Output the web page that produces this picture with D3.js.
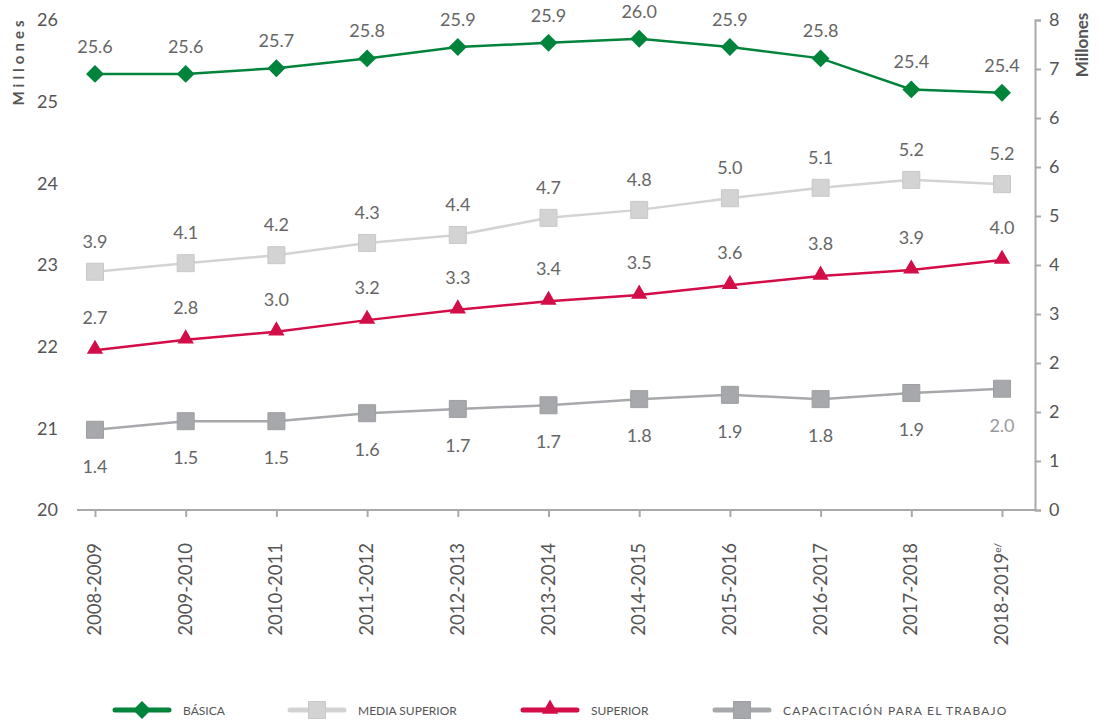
<!DOCTYPE html>
<html>
<head>
<meta charset="utf-8">
<script src="https://cdn.jsdelivr.net/npm/d3@7"></script>
<style>
  body { margin: 0; background: #fff; }
  text { font-family: Lato, "Open Sans", sans-serif; }
</style>
</head>
<body>
<div id="main"></div>
<script>
var ciclos = ["2008-2009","2009-2010","2010-2011","2011-2012","2012-2013","2013-2014","2014-2015","2015-2016","2016-2017","2017-2018","2018-2019"];
var basica = [25.34, 25.34, 25.41, 25.53, 25.67, 25.72, 25.77, 25.67, 25.53, 25.15, 25.11];//left axis
var basicaLbl = ["25.6","25.6","25.7","25.8","25.9","25.9","26.0","25.9","25.8","25.4","25.4"];
var mediaSup = [3.89, 4.03, 4.16, 4.36, 4.49, 4.77, 4.90, 5.09, 5.26, 5.39, 5.32];//right axis
var mediaSupLbl = ["3.9","4.1","4.2","4.3","4.4","4.7","4.8","5.0","5.1","5.2","5.2"];
var superior = [2.61, 2.78, 2.91, 3.10, 3.27, 3.41, 3.51, 3.67, 3.82, 3.92, 4.08];
var superiorLbl = ["2.7","2.8","3.0","3.2","3.3","3.4","3.5","3.6","3.8","3.9","4.0"];
var capacitacion = [1.31, 1.45, 1.45, 1.58, 1.65, 1.71, 1.81, 1.88, 1.81, 1.91, 1.98];
var capacitacionLbl = ["1.4","1.5","1.5","1.6","1.7","1.7","1.8","1.9","1.8","1.9","2.0"];
var leftTicks = [20, 21, 22, 23, 24, 25, 26];
var rightTicks = [0, 0.8, 1.6, 2.4, 3.2, 4.0, 4.8, 5.6, 6.4, 7.2, 8];
var legendNames = ["BÁSICA", "MEDIA SUPERIOR", "SUPERIOR", "CAPACITACIÓN PARA EL TRABAJO"];

var canvas = d3.select("#main").append("svg")
  .attr("width", 1098)
  .attr("height", 721);//create canvas

var xScale = d3.scalePoint().domain(ciclos).range([95, 1002]);
var yLeft = d3.scaleLinear().domain([20, 26]).range([510, 20]);
var yRight = d3.scaleLinear().domain([0, 8]).range([510, 20]);

var axisColor = "#a9a9ac";
var textColor = "#555";

// left axis, labels only
var gL = canvas.append("g")
  .attr("transform", "translate(77,0)")
  .call(d3.axisLeft(yLeft).tickValues(leftTicks).tickSize(0).tickPadding(19).tickFormat(d3.format("d")));
gL.select(".domain").remove();
gL.selectAll("text").attr("fill", textColor).style("font-size", "18px");

// right axis
var gR = canvas.append("g")
  .attr("transform", "translate(1035,0)")
  .call(d3.axisRight(yRight).tickValues(rightTicks).tickSize(6).tickPadding(8).tickFormat(d3.format(".0f")));
gR.select(".domain").attr("stroke", axisColor).attr("stroke-width", 2);
gR.selectAll(".tick line").attr("stroke", axisColor).attr("stroke-width", 2);
gR.selectAll("text").attr("fill", textColor).style("font-size", "18px");

// x axis
canvas.append("line")
  .attr("x1", 77).attr("x2", 1035)
  .attr("y1", yLeft(20)).attr("y2", yLeft(20))
  .attr("stroke", axisColor).attr("stroke-width", 2);
var gX = canvas.append("g")
  .attr("transform", "translate(0," + yLeft(20) + ")")
  .call(d3.axisBottom(xScale).tickSize(7).tickFormat(""));
gX.select(".domain").remove();
gX.selectAll(".tick line").attr("stroke", axisColor).attr("stroke-width", 2);
var xl = canvas.append("g").selectAll("text").data(ciclos).enter().append("text")
  .attr("transform", function(d) { return "translate(" + (xScale(d) + 6) + ",543) rotate(-90)"; })
  .attr("text-anchor", "end")
  .attr("fill", textColor)
  .style("font-size", "18.5px")
  .text(function(d) { return d; });
xl.filter(function(d, i) { return i == ciclos.length - 1; })
  .append("tspan").attr("dy", -7).style("font-size", "10px").text("e/");

// axis titles
canvas.append("text")
  .attr("transform", "translate(24,61) rotate(-90)")
  .attr("text-anchor", "middle")
  .attr("fill", textColor)
  .style("font-size", "15px").style("font-weight", "bold").style("letter-spacing", "4px")
  .text("Millones");
canvas.append("text")
  .attr("transform", "translate(1088,45) rotate(-90)")
  .attr("text-anchor", "middle")
  .attr("fill", textColor)
  .style("font-size", "17px").style("font-weight", "bold")
  .text("Millones");

var series = [
  { name: legendNames[3], vals: capacitacion, lbl: capacitacionLbl, y: yRight, color: "#a7a8ab", shape: "square", dy: 43 },
  { name: legendNames[2], vals: superior, lbl: superiorLbl, y: yRight, color: "#d30d48", shape: "triangle", dy: -26 },
  { name: legendNames[1], vals: mediaSup, lbl: mediaSupLbl, y: yRight, color: "#d3d3d4", shape: "square", dy: -24 },
  { name: legendNames[0], vals: basica, lbl: basicaLbl, y: yLeft, color: "#00833a", shape: "diamond", dy: -21 }
];

function marker(sel, shape, color) {
  if (shape == "square") {
    sel.append("path").attr("d", d3.symbol().type(d3.symbolSquare).size(289)())
      .attr("fill", color).attr("stroke", d3.color(color).darker(0.15)).attr("stroke-width", 1);
  } else if (shape == "diamond") {
    sel.append("path").attr("d", d3.symbol().type(d3.symbolSquare).size(160)())
      .attr("transform", "rotate(45)").attr("fill", color);
  } else {
    sel.append("path").attr("d", d3.symbol().type(d3.symbolTriangle).size(115)())
      .attr("transform", "translate(0,-1)").attr("fill", color);
  }
}

series.forEach(function(s) {
  var line = d3.line()
    .x(function(d, i) { return xScale(ciclos[i]); })
    .y(function(d) { return s.y(d); });
  canvas.append("path")
    .datum(s.vals)
    .attr("d", line)
    .attr("fill", "none")
    .attr("stroke", s.color)
    .attr("stroke-width", 2.5);
  var pts = canvas.append("g").selectAll("g").data(s.vals).enter().append("g")
    .attr("transform", function(d, i) { return "translate(" + xScale(ciclos[i]) + "," + s.y(d) + ")"; });
  pts.each(function() { marker(d3.select(this), s.shape, s.color); });
  canvas.append("g").selectAll("text").data(s.vals).enter().append("text")
    .attr("x", function(d, i) { return xScale(ciclos[i]); })
    .attr("y", function(d) { return s.y(d) + s.dy; })
    .attr("text-anchor", "middle")
    .attr("fill", function(d, i) { return (s.shape == "square" && s.dy > 0 && i == s.vals.length - 1) ? "#9a9a9d" : "#666"; })
    .style("font-size", "18px")
    .text(function(d, i) { return s.lbl[i]; });
});

// legend
var legendPos = [115, 290, 523, 715];
var legendOrder = [series[3], series[2], series[1], series[0]];
legendOrder.forEach(function(s, i) {
  var g = canvas.append("g").attr("transform", "translate(" + legendPos[i] + ",710)");
  g.append("line").attr("x1", 0).attr("x2", 54)
    .attr("stroke", s.color).attr("stroke-width", 5).attr("stroke-linecap", "round");
  var m = g.append("g").attr("transform", "translate(27,0)");
  marker(m, s.shape, s.color);
  g.append("text")
    .attr("x", 68).attr("y", 5)
    .attr("fill", textColor)
    .style("font-size", "12px")
    .style("letter-spacing", i == 3 ? "1.2px" : "0px")
    .text(s.name);
});
</script>
</body>
</html>
